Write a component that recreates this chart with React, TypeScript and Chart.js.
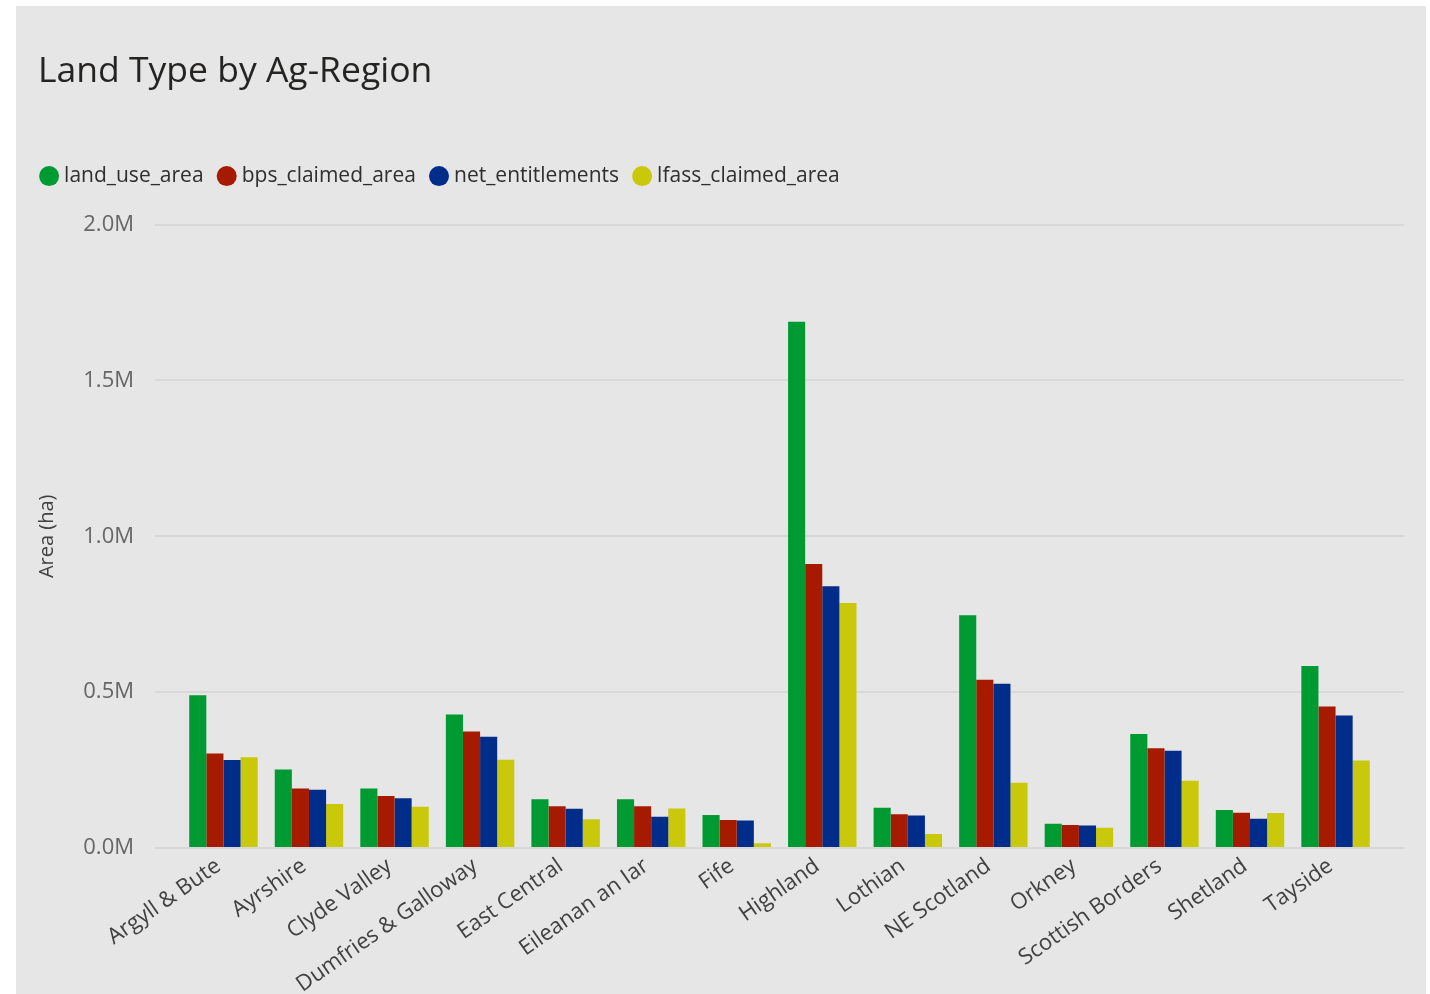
import React, { useEffect, useRef } from "react";
import { Chart, registerables } from "chart.js";

Chart.register(...registerables);

const chartTitle = "Land Type by Ag-Region";
const yAxisTitle = "Area (ha)";
const regions = [
  "Argyll & Bute",
  "Ayrshire",
  "Clyde Valley",
  "Dumfries & Galloway",
  "East Central",
  "Eileanan an Iar",
  "Fife",
  "Highland",
  "Lothian",
  "NE Scotland",
  "Orkney",
  "Scottish Borders",
  "Shetland",
  "Tayside",
];
const landUseArea = [490000, 252000, 191000, 428000, 156000, 156000, 106000, 1688000, 129000, 747000, 78000, 366000, 122000, 584000];
const bpsClaimedArea = [303000, 191000, 167000, 374000, 134000, 134000, 90000, 911000, 108000, 540000, 74000, 320000, 113000, 454000];
const netEntitlements = [282000, 187000, 160000, 357000, 126000, 100000, 88000, 840000, 104000, 527000, 72000, 312000, 94000, 425000];
const lfassClaimedArea = [291000, 141000, 132000, 283000, 92000, 127000, 15000, 786000, 45000, 209000, 65000, 216000, 112000, 281000];
const seriesNames = ["land_use_area", "bps_claimed_area", "net_entitlements", "lfass_claimed_area"];
const seriesColors = ["#009a33", "#a61a00", "#002c8a", "#c9c80b"];
const yTickValues = [0, 500000, 1000000, 1500000, 2000000];

const FONT = "'Segoe UI', 'Open Sans', sans-serif";

export default function App() {
  const canvasRef = useRef<HTMLCanvasElement | null>(null);

  useEffect(() => {
    const canvas = canvasRef.current;
    if (!canvas) return;
    const seriesValues = [landUseArea, bpsClaimedArea, netEntitlements, lfassClaimedArea];
    const legendGap = {
      id: "legendGap",
      beforeInit(chart: any) {
        const legend = chart.legend;
        if (!legend) return;
        const origFit = legend.fit;
        legend.fit = function () {
          origFit.call(this);
          this.height += 28;
        };
      },
    };
    const chart = new Chart(canvas, {
      type: "bar",
      data: {
        labels: regions.map((_, i) => i),
        datasets: seriesNames.map((name, k) => ({
          label: name,
          data: seriesValues[k],
          backgroundColor: seriesColors[k],
          borderWidth: 0,
          barPercentage: 1,
          categoryPercentage: 0.8,
        })),
      },
      options: {
        animation: false,
        responsive: false,
        layout: { padding: { left: 10, right: 22, top: 141, bottom: 0 } },
        plugins: {
          legend: {
            display: true,
            position: "top",
            align: "start",
            labels: {
              usePointStyle: true,
              pointStyle: "circle",
              boxWidth: 9,
              boxHeight: 14.14,
              padding: 18.6,
              color: "#2e2e2e",
              font: { family: FONT, size: 21 },
            },
          },
          title: { display: false },
          tooltip: { enabled: false },
        },
        scales: {
          x: {
            type: "linear",
            min: -0.8,
            max: regions.length - 1 + 0.8,
            offset: false,
            grid: { display: false, drawTicks: false },
            border: { display: false },
            afterBuildTicks: (scale: any) => {
              scale.ticks = regions.map((_, i) => ({ value: i }));
            },
            afterFit: (scale: any) => {
              scale.height = 146;
            },
            ticks: {
              autoSkip: false,
              minRotation: 35,
              maxRotation: 35,
              padding: 5,
              labelOffset: -5,
              color: "#404040",
              font: { family: FONT, size: 22 },
              callback: (v: any) => regions[Math.round(Number(v))] ?? "",
            },
          },
          y: {
            min: 0,
            max: 2000000,
            afterBuildTicks: (scale: any) => {
              scale.ticks = yTickValues.map((v) => ({ value: v }));
            },
            afterFit: (scale: any) => {
              scale.width = 129;
            },
            grid: { display: true, color: "#d8d8d8", lineWidth: 2, drawTicks: false },
            border: { display: false },
            title: {
              display: true,
              text: yAxisTitle,
              color: "#404040",
              font: { family: FONT, size: 20 },
              padding: { top: 9, bottom: 0 },
            },
            ticks: {
              padding: 21,
              color: "#666666",
              font: { family: FONT, size: 22 },
              callback: (v: any) => (Number(v) / 1000000).toFixed(1) + "M",
            },
          },
        },
      },
      plugins: [legendGap],
    } as any);
    return () => chart.destroy();
  }, []);

  return (
    <div
      style={{
        position: "absolute",
        left: 16,
        top: 6,
        width: 1410,
        height: 988,
        background: "#e6e6e6",
        overflow: "hidden",
      }}
    >
      <div
        style={{
          position: "absolute",
          left: 22,
          top: 42,
          fontFamily: FONT,
          fontSize: 35.5,
          lineHeight: "40px",
          color: "#252423",
          whiteSpace: "nowrap",
        }}
      >
        {chartTitle}
      </div>
      <canvas ref={canvasRef} width={1410} height={988} style={{ display: "block" }} />
    </div>
  );
}
